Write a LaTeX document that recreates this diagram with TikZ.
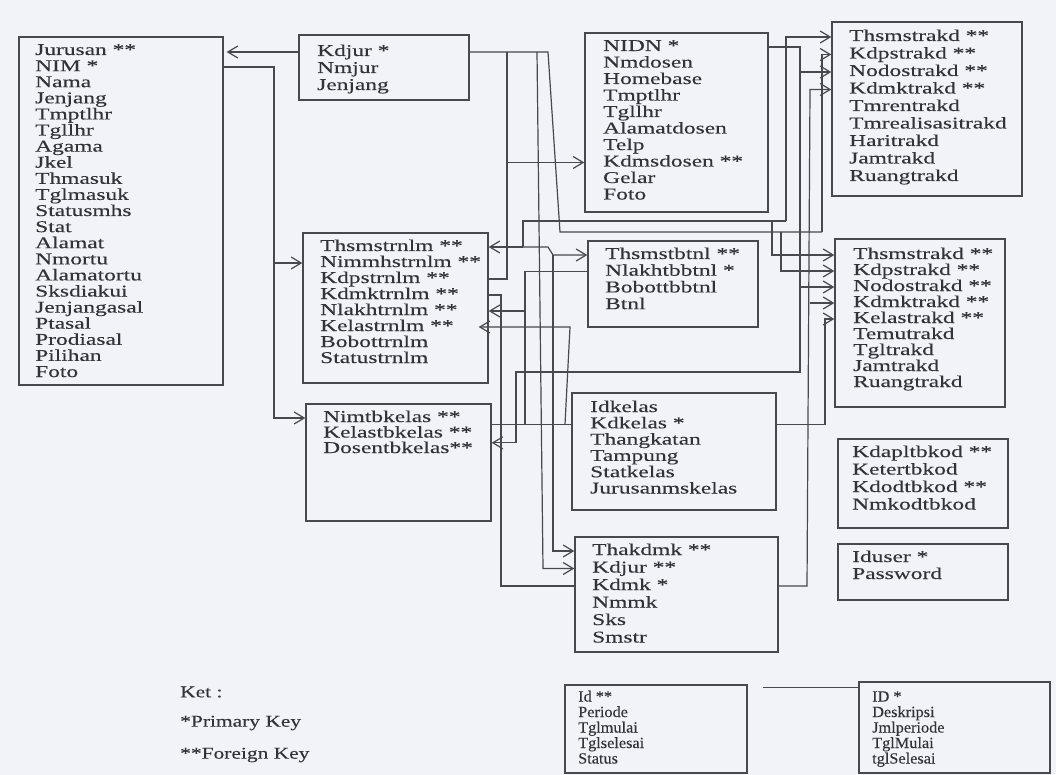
\documentclass[tikz,border=0pt]{standalone}
\usepackage{fontspec}
\setmainfont{Liberation Serif}
\newfontfamily\tabf{Liberation Serif}[FakeStretch=1.42,FakeBold=0.2]
\newfontfamily\perfont{Liberation Serif}[FakeStretch=1.05,FakeBold=0.15]
\newfontfamily\legf{Liberation Serif}[FakeStretch=1.3,FakeBold=0.15]
\usetikzlibrary{arrows.meta,calc}
\definecolor{bgc}{RGB}{241,243,248}
\definecolor{lin}{RGB}{72,72,78}
\definecolor{txt}{RGB}{50,50,58}
\tikzset{
  tbl/.style={draw=lin, line width=1.4pt, inner sep=0pt},
  row/.style={anchor=west, inner sep=0pt, text height=11pt, text depth=3pt, text=txt, font=\tabf\fontsize{16.5}{17}\selectfont},
  srow/.style={anchor=west, inner sep=0pt, text height=10pt, text depth=3pt, text=txt, font=\perfont\fontsize{15.5}{16}\selectfont},
  leg/.style={anchor=west, inner sep=0pt, text=txt, font=\legf\fontsize{16.5}{17}\selectfont},
  conn/.style={draw=lin, line width=1.2pt},
  arr/.style={conn, -{Straight Barb[length=10pt,width=12pt,line width=1.2pt]}}
}
\newcommand\mktable[9]{%
  \pgfmathsetmacro\tw{#4-#2}\pgfmathsetmacro\th{#5-#3}%
  \node[tbl, minimum width=\tw pt, minimum height=\th pt] (#1) at ({(#2+#4)/2},{(#3+#5)/2}) {};
  \foreach \r [count=\i] in {#9} {\node[row] (#1-\i) at (#6,{#7+(\i-1)*#8}) {\r};}%
}
\newcommand\mksmall[9]{%
  \pgfmathsetmacro\tw{#4-#2}\pgfmathsetmacro\th{#5-#3}%
  \node[tbl, line width=1.2pt, minimum width=\tw pt, minimum height=\th pt] (#1) at ({(#2+#4)/2},{(#3+#5)/2}) {};
  \foreach \r [count=\i] in {#9} {\node[srow] (#1-\i) at (#6,{#7+(\i-1)*#8}) {\r};}%
}
\begin{document}
\begin{tikzpicture}[x=1pt,y=-1pt]
\fill[bgc] (0,0) rectangle (1056,775);
\useasboundingbox (0,0) rectangle (1056,775);

% tables
\mktable{mhs}{19}{37}{223}{385}{35}{51}{16.1}{Jurusan **,NIM *,Nama,Jenjang,Tmptlhr,Tgllhr,Agama,Jkel,Thmasuk,Tglmasuk,Statusmhs,Stat,Alamat,Nmortu,Alamatortu,Sksdiakui,Jenjangasal,Ptasal,Prodiasal,Pilihan,Foto}
\mktable{jur}{299}{35}{469}{100}{317}{52}{17}{Kdjur *,Nmjur,Jenjang}
\mktable{dosen}{585}{33}{768}{212}{603}{47}{16.5}{NIDN *,Nmdosen,Homebase,Tmptlhr,Tgllhr,Alamatdosen,Telp,Kdmsdosen **,Gelar,Foto}
\mktable{trakda}{832}{22}{1022}{196}{849}{37}{17.5}{Thsmstrakd **,Kdpstrakd **,Nodostrakd **,Kdmktrakd **,Tmrentrakd,Tmrealisasitrakd,Haritrakd,Jamtrakd,Ruangtrakd}
\mktable{trnlm}{303}{233}{488}{383}{320}{247}{16}{Thsmstrnlm **,Nimmhstrnlm **,Kdpstrnlm **,Kdmktrnlm **,Nlakhtrnlm **,Kelastrnlm **,Bobottrnlm,Statustrnlm}
\mktable{btnl}{588}{241}{758}{327}{605}{255}{16.7}{Thsmstbtnl **,Nlakhtbbtnl *,Bobottbbtnl,Btnl}
\mktable{trakdb}{835}{239}{1005}{407}{853}{255}{16}{Thsmstrakd **,Kdpstrakd **,Nodostrakd **,Kdmktrakd **,Kelastrakd **,Temutrakd,Tgltrakd,Jamtrakd,Ruangtrakd}
\mktable{nimtb}{306}{404}{491}{521}{323}{418}{15.5}{Nimtbkelas **,Kelastbkelas **,Dosentbkelas**}
\mktable{kelas}{572}{393}{776}{510}{590}{408}{16.3}{Idkelas,Kdkelas *,Thangkatan,Tampung,Statkelas,Jurusanmskelas}
\mktable{mk}{575}{537}{778}{652}{592}{551}{17.5}{Thakdmk **,Kdjur **,Kdmk *,Nmmk,Sks,Smstr}
\mktable{kod}{838}{439}{1008}{528}{852}{453}{17.5}{Kdapltbkod **,Ketertbkod,Kdodtbkod **,Nmkodtbkod}
\mktable{user}{838}{544}{1008}{600}{852}{558}{17}{Iduser *,Password}
\mksmall{per}{565}{685}{747}{773}{578}{698}{15.5}{Id **,Periode,Tglmulai,Tglselesai,Status}
\mksmall{idb}{859}{682}{1050}{773}{872}{698}{15.5}{ID *,Deskripsi,Jmlperiode,TglMulai,tglSelesai}

% legend
\node[leg] (ket) at (180,692) {Ket :};
\node[leg] (pk) at (180,723) {*Primary Key};
\node[leg] (fk) at (180,755) {**Foreign Key};

% x positions of vertical runs
\coordinate (vNim) at (274,0);
\coordinate (vJa) at (507,0);
\coordinate (vJb) at (537,0);
\coordinate (vJbb) at (543,0);
\coordinate (vJc) at (548,0);
\coordinate (jSl) at (560,232);
\coordinate (vJd) at (822,0);
\coordinate (vJe) at (781,0);
\coordinate (hJ) at (0,232);
\coordinate (vSa) at (523,0);
\coordinate (hS) at (0,221);
\coordinate (vSb) at (786,0);
\coordinate (vSc) at (772,0);
\coordinate (vSd) at (548,0);
\coordinate (vSe) at (553,0);
\coordinate (vNa) at (800,0);
\coordinate (vNc) at (516,0);
\coordinate (hN) at (0,372);
\coordinate (vMa) at (810,0);
\coordinate (vMb) at (807,0);
\coordinate (vKa) at (501,0);
\coordinate (vLa) at (825,0);
\coordinate (vLb) at (565,0);
\coordinate (vLc) at (570,0);
\coordinate (vNl) at (525,0);
\coordinate (nimtbm) at ($(nimtb-2)!0.6!(nimtb-3)$);

% Kdjur -> Jurusan
\draw[arr] (jur-1 -| jur.west) -- ([xshift=3pt]jur-1 -| mhs.east);
% NIM net
\draw[arr] (mhs-2 -| mhs.east) -- (vNim |- mhs-2) -- (vNim |- nimtb-1) -- (nimtb-1 -| nimtb.west);
\draw[arr] (vNim |- trnlm-2) -- (trnlm-2 -| trnlm.west);
% Kdjur net
\draw[conn] (jur-1 -| jur.east) -- (vJc |- jur-1) -- (jSl) -- (vJd |- hJ);
\draw[arr] (vJd |- hJ) -- (vJd |- trakda-2) -- (trakda-2 -| trakda.west);
\draw[conn] (vJa |- jur-1) -- (vJa |- trnlm-3) -- (trnlm-3 -| trnlm.east);
\draw[arr] (vJa |- dosen-8) -- (dosen-8 -| dosen.west);
\draw[arr] (vJb |- jur-1) -- (vJbb |- mk-2) -- (mk-2 -| mk.west);
\draw[arr] (vJe |- hJ) -- (vJe |- trakdb-2) -- (trakdb-2 -| trakdb.west);
% semester net
\draw[arr] (vSa |- trnlm-1) -- (trnlm-1 -| trnlm.east);
\draw[conn] (vSa |- trnlm-1) -- (vSa |- hS) -- (vSb |- hS);
\draw[arr] (vSb |- hS) -- (vSb |- trakda-1) -- (trakda-1 -| trakda.west);
\draw[arr] (vSc |- hS) -- (vSc |- trakdb-1) -- (trakdb-1 -| trakdb.west);
\draw[arr] (vSa |- trnlm-1) -- (vSd |- trnlm-1) -- (vSe |- btnl-1) -- (btnl-1 -| btnl.west);
\draw[arr] (vSe |- btnl-1) -- (vSe |- mk-1) -- (mk-1 -| mk.west);
% NIDN net
\draw[arr] (dosen-1 -| dosen.east) -- (vNa |- dosen-1) -- (vNa |- trakdb-3) -- (trakdb-3 -| trakdb.west);
\draw[arr] (vNa |- trakda-3) -- (trakda-3 -| trakda.west);
\draw[arr] (vNa |- trakdb-3) -- (vNa |- hN) -- (vNc |- hN) -- (vNc |- nimtbm) -- (nimtbm -| nimtb.east);
% Kdmk net
\draw[arr] (mk-3 -| mk.east) -- (vMb |- mk-3) -- (vMa |- trakda-4) -- (trakda-4 -| trakda.west);
\draw[arr] (vMa |- trakdb-4) -- (trakdb-4 -| trakdb.west);
\draw[conn] (trnlm-4 -| trnlm.east) -- (vKa |- trnlm-4) -- (vKa |- mk-3) -- (mk-3 -| mk.west);
% Kdkelas net
\draw[arr] (kelas-2 -| kelas.east) -- (vLa |- kelas-2) -- (vLa |- trakdb-5) -- (trakdb-5 -| trakdb.west);
\draw[conn] (kelas-2 -| nimtb.east) -- (kelas-2 -| kelas.west);
\draw[arr] (vLb |- kelas-2) -- (vLc |- trnlm-6) -- ([xshift=-10pt]trnlm-6 -| trnlm.east);
% Nlakh net
\draw[arr] (btnl-2 -| btnl.west) -- (vNl |- btnl-2) -- (vNl |- trnlm-5) -- (trnlm-5 -| trnlm.east);
\draw[conn] (vNl |- trnlm-5) -- (vNl |- kelas-2);
% periode
\draw[conn] ([yshift=-6pt]idb.north west) -- ++(-95,0);
\end{tikzpicture}
\end{document}
